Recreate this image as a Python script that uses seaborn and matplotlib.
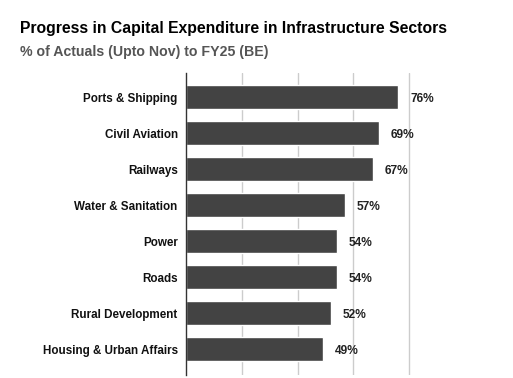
import matplotlib.pyplot as plt
import pandas as pd
import seaborn as sns

sectors = [
    "Ports & Shipping",
    "Civil Aviation",
    "Railways",
    "Water & Sanitation",
    "Power",
    "Roads",
    "Rural Development",
    "Housing & Urban Affairs",
]
pct_spent = [76, 69, 67, 57, 54, 54, 52, 49]

df = pd.DataFrame({"sector": sectors, "pct": pct_spent})

sns.set_theme(style="white")
plt.rcParams["font.family"] = ["Liberation Sans", "DejaVu Sans"]

fig = plt.figure(figsize=(5.13, 3.78), dpi=100, facecolor="white")
ax = fig.add_axes([186 / 513, 3 / 378, 279 / 513, 302 / 378])

sns.barplot(data=df, x="pct", y="sector", color="#434343", saturation=1,
            width=0.67, ax=ax, zorder=3)

ax.set_xlim(0, 100)
ax.set_ylim(7.72, -0.67)
ax.set_xticks([20, 40, 60, 80])
ax.set_xticklabels([])
ax.tick_params(axis="both", length=0)
ax.xaxis.grid(True, color="#cccccc", linewidth=1, zorder=0)
ax.set_xlabel("")
ax.set_ylabel("")
for side in ["top", "right", "bottom"]:
    ax.spines[side].set_visible(False)
ax.spines["left"].set_color("#333333")
ax.spines["left"].set_linewidth(1)
ax.spines["left"].set_zorder(4)

ax.set_yticks(range(len(sectors)))
ax.set_yticklabels(sectors, fontsize=8.4, fontweight="bold", color="#111111")
ax.tick_params(axis="y", pad=6)

for i, v in enumerate(pct_spent):
    ax.text(v + 4.3, i + 0.05, f"{v}%", va="center", ha="left",
            fontsize=8.6, fontweight="bold", color="#222222")

fig.text(20 / 513, 1 - 28 / 378, "Progress in Capital Expenditure in Infrastructure Sectors",
         fontsize=11.3, fontweight="bold", color="#000000", va="center", ha="left")
fig.text(20 / 513, 1 - 52 / 378, "% of Actuals (Upto Nov) to FY25 (BE)",
         fontsize=10.2, fontweight="bold", color="#555555", va="center", ha="left")

fig.savefig("out.png", dpi=100, facecolor="white")
